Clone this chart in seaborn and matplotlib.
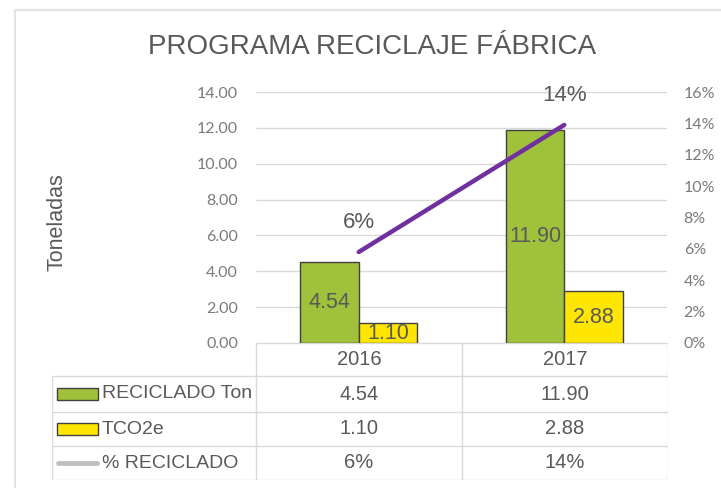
import numpy as np
import pandas as pd
import seaborn as sns
import matplotlib
matplotlib.use("Agg")
import matplotlib.pyplot as plt
from matplotlib.patches import Rectangle
from matplotlib.ticker import FuncFormatter, PercentFormatter

# ---- data ----
years = ["2016", "2017"]
series = ["RECICLADO Ton", "TCO2e"]
reciclado_ton = [4.54, 11.90]
tco2e = [1.10, 2.88]
pct_reciclado = [0.058, 0.139]
pct_labels = ["6%", "14%"]
line_name = "% RECICLADO"
title = "PROGRAMA RECICLAJE FÁBRICA"
y_label = "Toneladas"

df = pd.DataFrame({
    "year": years * 2,
    "serie": [series[0]] * len(years) + [series[1]] * len(years),
    "valor": reciclado_ton + tco2e,
})

# ---- styling ----
green = "#9FC13B"
yellow = "#FFE600"
purple = "#7030A0"
grey_txt = "#595959"
tick_col = "#7A7A7A"
grid_col = "#D9D9D9"
edge_col = "#404040"
narrow = ["Liberation Sans Narrow", "Liberation Sans", "DejaVu Sans"]
calib = ["Lato", "DejaVu Sans"]

sns.set_theme(style="white")
plt.rcParams["font.family"] = narrow

W, H = 721, 488
fig = plt.figure(figsize=(W / 100, H / 100), dpi=100)


def fx(px):
    return px / W


def fy(py):
    return 1 - py / H


# main plot area (pixel box 256..667 x 92..343)
ax = fig.add_axes([fx(256), fy(343), fx(667) - fx(256), fy(92) - fy(343)])
sns.barplot(data=df, x="year", y="valor", hue="serie", palette=[green, yellow],
            width=0.57, gap=0, saturation=1, edgecolor=edge_col, linewidth=1,
            legend=False, ax=ax)
ax.set_xlim(-0.5, len(years) - 0.5)
ax.set_ylim(0, 14)
ax.set_yticks(np.arange(0, 15, 2))
ax.yaxis.set_major_formatter(FuncFormatter(lambda v, p: f"{v:.2f}"))
ax.grid(axis="y", color=grid_col, lw=1)
ax.set_axisbelow(True)
ax.tick_params(axis="y", length=0, pad=13, labelsize=11.5, labelcolor=tick_col)
for lab in ax.get_yticklabels():
    lab.set_fontfamily(calib)
ax.set_xlabel("")
ax.set_ylabel("")
for s in ax.spines.values():
    s.set_visible(False)

for cont in ax.containers:
    labs = ax.bar_label(cont, fmt="%.2f", label_type="center", fontsize=15.5, color=grey_txt)
    for t in labs:
        t.set_clip_path(ax.patch)

# secondary axis with the percentage line
ax2 = ax.twinx()
sns.pointplot(x=years, y=pct_reciclado, color=purple, markers="", linewidth=3.2,
              errorbar=None, ax=ax2)
ax2.set_ylim(0, 0.16)
ax2.set_yticks(np.arange(0, 0.161, 0.02))
ax2.yaxis.set_major_formatter(PercentFormatter(1, decimals=0))
ax2.tick_params(axis="y", length=0, pad=12, labelsize=11.5, labelcolor=tick_col)
for lab in ax2.get_yticklabels():
    lab.set_fontfamily(calib)
ax2.grid(False)
ax2.set_ylabel("")
for s in ax2.spines.values():
    s.set_visible(False)
for i, (v, lab) in enumerate(zip(pct_reciclado, pct_labels)):
    ax2.annotate(lab, (i, v), xytext=(0, 21), textcoords="offset points",
                 ha="center", va="center", fontsize=16, color=grey_txt)
ax.set_xticks([])
ax.set_xlabel("")
ax2.set_xlabel("")

# ---- data table under the plot ----
tab = fig.add_axes([fx(52), fy(480), fx(668) - fx(52), fy(343) - fy(480)])
tab.set_xlim(52, 668)
tab.set_ylim(480, 343)
tab.axis("off")
row_edges = [343, 376, 412, 446, 480]
col_edges = [256, 462, 668]
tab.hlines(row_edges[0], col_edges[0], col_edges[-1], color=grid_col, lw=1)
tab.hlines(row_edges[1:], 52, col_edges[-1], color=grid_col, lw=1)
tab.vlines(52, row_edges[1], row_edges[-1], color=grid_col, lw=1)
tab.vlines(col_edges, row_edges[0], row_edges[-1], color=grid_col, lw=1)

row_mid = [(a + b) / 2 for a, b in zip(row_edges[:-1], row_edges[1:])]
col_mid = [(a + b) / 2 for a, b in zip(col_edges[:-1], col_edges[1:])]
rows = [
    [f"{v:.2f}" for v in reciclado_ton],
    [f"{v:.2f}" for v in tco2e],
    pct_labels,
]
names = series + [line_name]
for j, yr in enumerate(years):
    tab.text(col_mid[j], row_mid[0], yr, ha="center", va="center", fontsize=14.5, color=grey_txt)
for i, (name, vals) in enumerate(zip(names, rows)):
    ym = row_mid[i + 1]
    tab.text(102, ym, name, ha="left", va="center", fontsize=14, color=grey_txt)
    for j, v in enumerate(vals):
        tab.text(col_mid[j], ym, v, ha="center", va="center", fontsize=14.5, color=grey_txt)
    if i < 2:
        tab.add_patch(Rectangle((57, ym - 6), 41, 12, facecolor=[green, yellow][i],
                                edgecolor=edge_col, lw=1))
    else:
        tab.plot([58, 97], [ym, ym], color="#BFBFBF", lw=3.5, solid_capstyle="round")

# ---- title, axis title, chart frame ----
fig.text(fx(372), fy(47), title, ha="center", va="center", fontsize=20, color=grey_txt)
fig.text(fx(57), fy(222), y_label, ha="center", va="center", rotation=90,
         fontsize=15.5, color=grey_txt)
fig.add_artist(Rectangle((fx(15), fy(600)), fx(800) - fx(15), fy(10) - fy(600),
                         transform=fig.transFigure, fill=False, ec="#E3E3E3", lw=1.5))

fig.savefig("out.png", dpi=100)
